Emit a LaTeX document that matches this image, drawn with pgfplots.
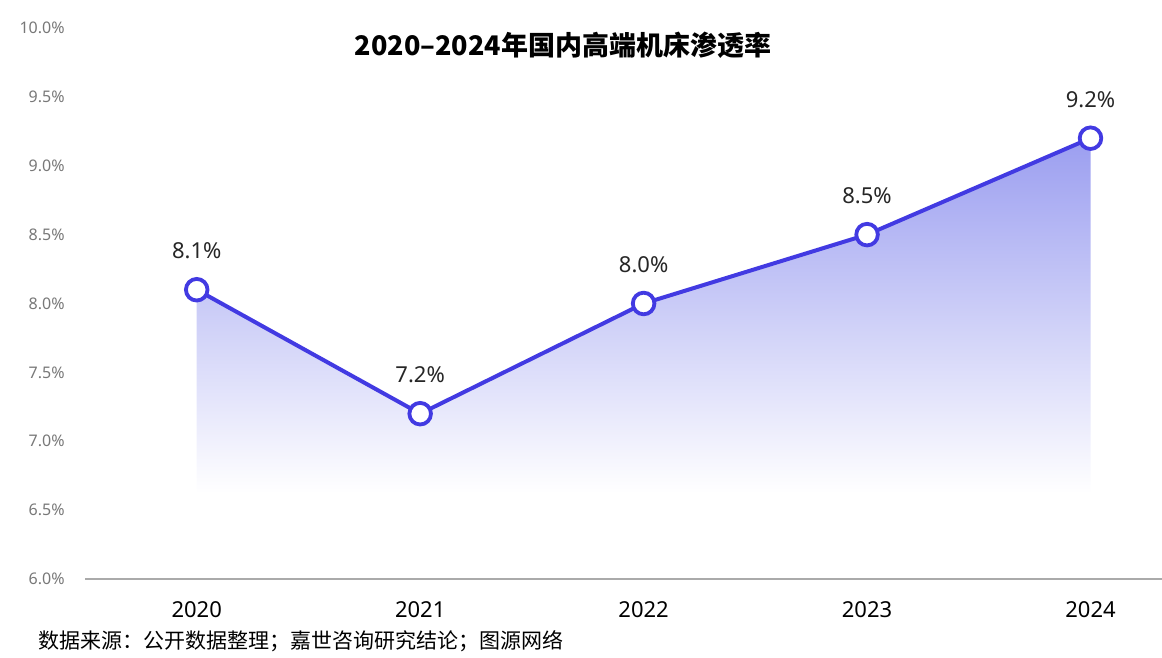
\documentclass[border=0pt]{standalone}
\usepackage{fontspec}
\setmainfont{Noto Sans}
\newfontfamily\cjk{Noto Sans CJK SC}
\usepackage{pgfplots}
\pgfplotsset{compat=1.18}
\definecolor{lineblue}{RGB}{66,58,226}
\definecolor{fillblue}{RGB}{155,158,240}
\definecolor{tickgray}{RGB}{120,120,120}
\definecolor{axisgray}{RGB}{170,170,170}
\begin{document}
\begin{tikzpicture}
\path[use as bounding box] (0,0) rectangle (581pt,329pt);
\begin{axis}[
  at={(42.5pt,39.5pt)}, anchor=south west,
  scale only axis, width=538.5pt, height=275.5pt,
  xmin=2019.5, xmax=2024.32,
  ymin=6, ymax=10,
  axis lines*=left,
  axis y line=none,
  axis x line*=bottom,
  x axis line style={axisgray, line width=0.6pt, -},
  xtick={2020,2021,2022,2023,2024},
  xticklabels={2020,2021,2022,2023,2024},
  xtick style={draw=none},
  xticklabel style={font=\fontsize{11}{13}\selectfont, text=black, yshift=-7.5pt},
  ytick={6,6.5,...,10},
  clip=false,
  /pgf/number format/assume math mode=true,
]
\addplot[draw=none, top color=fillblue, bottom color=white, shading=axis]
  coordinates {(2020,8.1) (2021,7.2) (2022,8.0) (2023,8.5) (2024,9.2) (2024,6.62) (2020,6.62)} -- cycle;
\addplot[lineblue, line width=2pt, mark=*, mark size=5.4pt,
  mark options={fill=white, draw=lineblue, line width=1.9pt},
  nodes near coords={\pgfmathprintnumber[fixed,fixed zerofill,precision=1]{\pgfplotspointmeta}\%},
  point meta=y,
  nodes near coords style={font=\fontsize{11}{13}\selectfont, text=black!85, anchor=south, yshift=11pt},
]
  coordinates {(2020,8.1) (2021,7.2) (2022,8.0) (2023,8.5) (2024,9.2)};
\foreach \v/\l in {6/6.0,6.5/6.5,7/7.0,7.5/7.5,8/8.0,8.5/8.5,9/9.0,9.5/9.5,10/10.0}{
  \edef\temp{\noexpand\node[anchor=east, text=tickgray, font=\noexpand\fontsize{8}{10}\noexpand\selectfont, inner sep=0pt] at (axis cs:2019.5,\v) [xshift=-10pt] {\l\noexpand\%};}
  \temp
}
\end{axis}
\node[font=\cjk\bfseries\fontsize{13.5}{16}\selectfont] at (281.5pt,306.5pt) {2020–2024年国内高端机床渗透率};
\node[anchor=west, font=\cjk\fontsize{10.5}{12}\selectfont, inner sep=0pt] at (19pt,8.5pt) {数据来源：公开数据整理；嘉世咨询研究结论；图源网络};
\end{tikzpicture}
\end{document}
